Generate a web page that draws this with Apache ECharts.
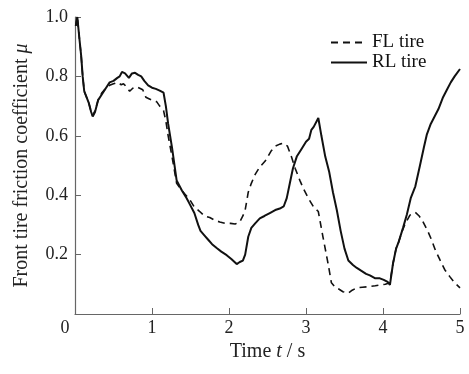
<!DOCTYPE html>
<html>
<head>
<meta charset="utf-8">
<script src="https://cdn.jsdelivr.net/npm/echarts@6/dist/echarts.min.js"></script>
<style>html,body{margin:0;padding:0;background:#fff}#c{width:469px;height:374px}</style>
</head>
<body>
<div id="c"></div>
<script>
var xTicks = [0, 1, 2, 3, 4, 5];
var yTicks = [0.2, 0.4, 0.6, 0.8, 1.0];
var seriesNames = ['FL tire', 'RL tire'];

var flData = [[0.01,0.97],[0.03,1.0],[0.06,0.92],[0.08,0.87],[0.1,0.80],[0.12,0.75],[0.15,0.73],[0.18,0.71],[0.21,0.68],[0.23,0.668],[0.26,0.685],[0.3,0.72],[0.35,0.745],[0.4,0.76],[0.45,0.77],[0.5,0.775],[0.55,0.78],[0.6,0.772],[0.63,0.775],[0.67,0.765],[0.71,0.75],[0.75,0.76],[0.8,0.765],[0.84,0.76],[0.88,0.755],[0.92,0.73],[0.96,0.725],[1.0,0.72],[1.06,0.715],[1.1,0.70],[1.15,0.685],[1.18,0.65],[1.21,0.60],[1.26,0.53],[1.32,0.44],[1.39,0.415],[1.44,0.40],[1.49,0.385],[1.55,0.36],[1.62,0.345],[1.68,0.33],[1.75,0.325],[1.82,0.315],[1.88,0.31],[1.95,0.305],[2.02,0.305],[2.08,0.303],[2.14,0.31],[2.18,0.33],[2.21,0.35],[2.25,0.41],[2.29,0.44],[2.34,0.47],[2.4,0.495],[2.47,0.515],[2.55,0.55],[2.6,0.565],[2.66,0.572],[2.71,0.575],[2.76,0.565],[2.81,0.53],[2.86,0.49],[2.92,0.45],[2.97,0.42],[3.03,0.39],[3.1,0.36],[3.16,0.345],[3.22,0.26],[3.29,0.165],[3.33,0.105],[3.38,0.09],[3.42,0.085],[3.48,0.075],[3.55,0.07],[3.6,0.08],[3.66,0.088],[3.73,0.09],[3.81,0.092],[3.9,0.095],[3.96,0.098],[4.03,0.10],[4.09,0.105],[4.13,0.17],[4.17,0.22],[4.2,0.24],[4.25,0.28],[4.29,0.305],[4.35,0.333],[4.42,0.342],[4.47,0.33],[4.52,0.31],[4.58,0.28],[4.63,0.25],[4.68,0.215],[4.74,0.182],[4.8,0.15],[4.87,0.125],[4.93,0.105],[5.0,0.088]];

var rlData = [[0.01,0.97],[0.03,1.0],[0.06,0.92],[0.08,0.87],[0.1,0.80],[0.12,0.75],[0.15,0.73],[0.18,0.71],[0.21,0.68],[0.23,0.665],[0.26,0.68],[0.3,0.72],[0.35,0.74],[0.4,0.76],[0.45,0.78],[0.5,0.785],[0.55,0.795],[0.58,0.80],[0.61,0.815],[0.65,0.81],[0.7,0.795],[0.74,0.81],[0.78,0.812],[0.82,0.805],[0.86,0.80],[0.9,0.785],[0.95,0.77],[1.0,0.762],[1.05,0.758],[1.1,0.752],[1.15,0.745],[1.18,0.70],[1.21,0.64],[1.26,0.56],[1.32,0.45],[1.39,0.415],[1.45,0.39],[1.49,0.37],[1.55,0.34],[1.6,0.30],[1.63,0.28],[1.68,0.265],[1.73,0.25],[1.78,0.235],[1.84,0.222],[1.9,0.21],[1.97,0.198],[2.03,0.185],[2.1,0.168],[2.14,0.175],[2.18,0.18],[2.21,0.2],[2.25,0.26],[2.29,0.29],[2.34,0.305],[2.4,0.322],[2.46,0.33],[2.53,0.34],[2.6,0.35],[2.66,0.355],[2.71,0.362],[2.75,0.39],[2.79,0.44],[2.83,0.49],[2.88,0.53],[2.94,0.555],[3.0,0.58],[3.04,0.59],[3.07,0.62],[3.1,0.63],[3.16,0.66],[3.2,0.6],[3.25,0.53],[3.3,0.48],[3.35,0.41],[3.4,0.35],[3.45,0.28],[3.5,0.22],[3.55,0.18],[3.61,0.165],[3.66,0.155],[3.72,0.145],[3.78,0.135],[3.83,0.13],[3.9,0.12],[3.96,0.12],[4.01,0.115],[4.03,0.12],[4.06,0.108],[4.09,0.098],[4.13,0.17],[4.17,0.22],[4.2,0.24],[4.26,0.29],[4.31,0.335],[4.36,0.39],[4.42,0.43],[4.48,0.50],[4.53,0.56],[4.57,0.605],[4.62,0.64],[4.67,0.665],[4.72,0.69],[4.78,0.73],[4.83,0.755],[4.88,0.78],[4.93,0.80],[5.0,0.825]];

var FONT = '"Liberation Serif", "Times New Roman", serif';
var chart = echarts.init(document.getElementById('c'), null, {renderer: 'canvas'});
chart.setOption({
  backgroundColor: '#fff',
  animation: false,
  grid: {left: 75, right: 9, top: 17, bottom: 60, containLabel: false},
  legend: {
    orient: 'vertical', left: 325, top: 28, padding: 5,
    itemWidth: 36, itemHeight: 14, itemGap: 1,
    itemStyle: {color: 'rgba(0,0,0,0)', borderWidth: 0, opacity: 0},
    textStyle: {fontFamily: FONT, fontSize: 19, color: '#111'},
    data: seriesNames
  },
  xAxis: {
    type: 'value', min: xTicks[0], max: xTicks[xTicks.length - 1], interval: 1,
    axisLine: {lineStyle: {color: '#666', width: 1.2}},
    axisTick: {inside: true, length: 6, lineStyle: {color: '#666'}},
    splitLine: {show: false},
    axisLabel: {
      fontFamily: FONT, fontSize: 18, color: '#222', margin: 5,
      formatter: function (v) { return v === 0 ? '{z|0}' : String(v); },
      rich: {z: {fontFamily: FONT, fontSize: 18, color: '#222', padding: [0, 20, 0, 0]}}
    },
    name: 'Time {i|t} / s', nameLocation: 'middle', nameGap: 26,
    nameTextStyle: {fontFamily: FONT, fontSize: 20, color: '#222',
      rich: {i: {fontFamily: FONT, fontSize: 20, fontStyle: 'italic', color: '#222'}}}
  },
  yAxis: {
    type: 'value', min: 0, max: yTicks[yTicks.length - 1], interval: 0.2,
    axisLine: {show: true, lineStyle: {color: '#666', width: 1.2}},
    axisTick: {show: true, inside: true, length: 6, lineStyle: {color: '#666'}},
    splitLine: {show: false},
    axisLabel: {
      fontFamily: FONT, fontSize: 18, color: '#222', margin: 7,
      formatter: function (v) { return v === 0 ? '' : v.toFixed(1); }
    },
    name: 'Front tire friction coefficient {i|μ}', nameLocation: 'middle', nameGap: 43, nameRotate: 90,
    nameTextStyle: {fontFamily: FONT, fontSize: 20, color: '#222',
      rich: {i: {fontFamily: FONT, fontSize: 20, fontStyle: 'italic', color: '#222'}}}
  },
  series: [
    {name: seriesNames[0], type: 'line', data: flData, symbol: 'none', smooth: false,
     lineStyle: {color: '#111', width: 1.6, type: [7, 5]}, itemStyle: {color: '#111'}},
    {name: seriesNames[1], type: 'line', data: rlData, symbol: 'none', smooth: false,
     lineStyle: {color: '#111', width: 2}, itemStyle: {color: '#111'}}
  ]
});
</script>
</body>
</html>
